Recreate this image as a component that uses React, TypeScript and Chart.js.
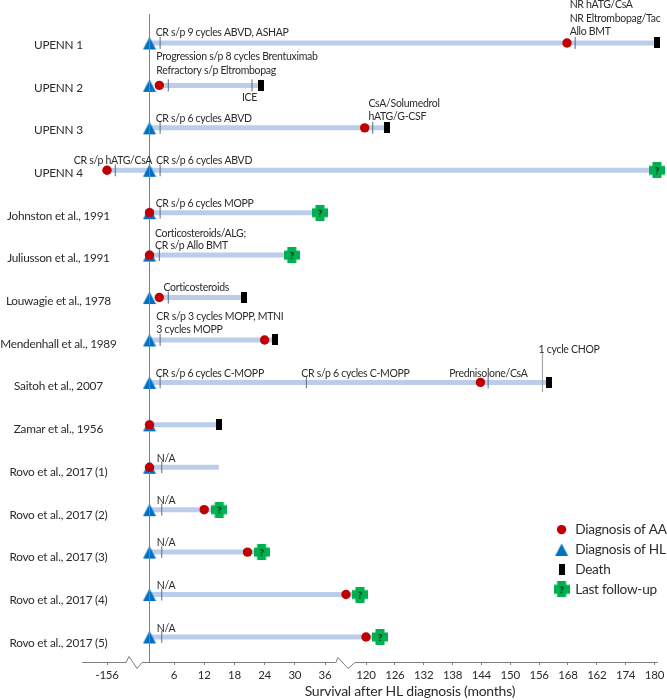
import React, { useEffect, useRef } from "react";
import { Chart, registerables, LinearScale } from "chart.js";

const FONT = "Lato";
const INK = "#2b2b2b";
const AXIS = "#7f7f7f";

const studies = ["UPENN 1","UPENN 2","UPENN 3","UPENN 4","Johnston et al., 1991","Juliusson et al., 1991","Louwagie et al., 1978","Mendenhall et al., 1989","Saitoh et al., 2007","Zamar et al., 1956","Rovo et al., 2017 (1)","Rovo et al., 2017 (2)","Rovo et al., 2017 (3)","Rovo et al., 2017 (4)","Rovo et al., 2017 (5)"];
const barStart = [0, 2.4, 0, -156, 0, 0, 2.4, 0, 0, 0, 0, 0, 0, 0, 0];
const barEnd = [180.5, 23.3, 124.3, 180.5, 35, 29.4, 19.9, 26, 158, 14.9, 14.9, 15, 23.4, 107.7, 122.9];
const aaMonths = [161.8, 2.4, 117.3, -156, 0, 0, 2.4, 24, 143.8, 0, 0, 12, 20.6, 79, 120];
const hlMonths = [0, 0, 0, 0, 0, 0, 0, 0, 0, 0, 0, 0, 0, 0, 0];
const deathRows = [0, 1, 2, 6, 7, 8, 9];
const deathMonths = [180.5, 23.3, 124.3, 19.9, 26, 158, 14.9];
const followRows = [3, 4, 5, 11, 12, 13, 14];
const followMonths = [180.5, 35, 29.4, 15, 23.4, 107.7, 122.9];
const tickRows = [0,0,1,1,2,2,3,3,4,5,6,7,8,8,8,10,11,12,13,14];
const tickMonths = [2.6,163.5,4.6,21.5,2.6,121.4,-125.5,2.6,2.6,2.4,4.6,2.6,2.6,32.3,145.4,3,3,3,3,3];

const axisMonths = [-156, 6, 12, 18, 24, 30, 36, 120, 126, 132, 138, 144, 150, 156, 162, 168, 174, 180];
const axisLabels = ["-156", "6", "12", "18", "24", "30", "36", "120", "126", "132", "138", "144", "150", "156", "168", "162", "174", "180"];
const knotMonths = [-156, 0, 6, 36, 120, 180];
const knotOffsets = [25, 67.5, 92, 243, 284, 572.5];

const noteTexts = ["CR s/p 9 cycles ABVD, ASHAP","Progression s/p 8 cycles Brentuximab","Refractory s/p Eltrombopag","ICE","CR s/p 6 cycles ABVD","CR s/p hATG/CsA","CR s/p 6 cycles ABVD","CR s/p 6 cycles MOPP","Corticosteroids/ALG;","CR s/p Allo BMT","Corticosteroids","CR s/p 3 cycles MOPP, MTNI","3 cycles MOPP","CR s/p 6 cycles C-MOPP","CR s/p 6 cycles C-MOPP","Prednisolone/CsA","1 cycle CHOP","N/A","N/A","N/A","N/A","N/A","CsA/Solumedrol","hATG/G-CSF","NR hATG/CsA","NR Eltrombopag/Tac","Allo BMT"];
const noteMonths = [1.5,1.67,1.67,19.5,1.5,-278,1.6,1.5,1.35,1.35,3.4,1.67,1.67,1.5,31.3,137.3,155.9,1.8,1.8,1.8,1.8,1.8,120.5,120.5,162.35,162.35,162.35];
const noteRows = [-0.236,0.33,0.653,1.289,1.791,2.764,2.764,3.794,4.502,4.784,5.767,6.45,6.764,7.785,7.785,7.785,7.219,9.804,10.78,11.784,12.79,13.794,1.421,1.737,-0.896,-0.582,-0.276];

const legendNames = ["Diagnosis of AA", "Diagnosis of HL", "Death", "Last follow-up"];

class BrokenAxis extends LinearScale {
  static id = "brokenAxis";
  getPixelForValue(v: number) {
    let i = 0;
    while (i < knotMonths.length - 2 && v > knotMonths[i + 1]) i++;
    const t = (v - knotMonths[i]) / (knotMonths[i + 1] - knotMonths[i]);
    return this.left + knotOffsets[i] + t * (knotOffsets[i + 1] - knotOffsets[i]);
  }
  drawTitle() {
    const ctx = this.ctx;
    ctx.save();
    ctx.translate(40, 0);
    super.drawTitle();
    ctx.restore();
  }
}
class NamesAxis extends LinearScale {
  static id = "namesAxis";
  _computeLabelArea() {
    return undefined;
  }
}
Chart.register(...registerables, BrokenAxis, NamesAxis);

function triangleMark() {
  const c = document.createElement("canvas");
  c.width = 14; c.height = 15;
  const g = c.getContext("2d")!;
  g.fillStyle = "#0070c0";
  g.beginPath(); g.moveTo(7, 1.5); g.lineTo(13.5, 14); g.lineTo(0.5, 14); g.closePath(); g.fill();
  return c;
}
function deathMark() {
  const c = document.createElement("canvas");
  c.width = 6; c.height = 11;
  const g = c.getContext("2d")!;
  g.fillStyle = "#000"; g.fillRect(0, 0, 6, 11);
  return c;
}
function followMark() {
  const c = document.createElement("canvas");
  c.width = 16; c.height = 16;
  const g = c.getContext("2d")!;
  g.fillStyle = "#00b050";
  g.fillRect(3.5, 0, 9, 16); g.fillRect(0, 3.5, 16, 9);
  g.fillStyle = "#1a1a1a"; g.font = `bold 10px ${FONT}`; g.textAlign = "center"; g.textBaseline = "middle";
  g.fillText("?", 8, 8.5);
  return c;
}

const notesPlugin = {
  id: "notes",
  afterDatasetsDraw(chart: any) {
    const { ctx, scales: { x, y } } = chart;
    ctx.save();
    ctx.font = `10.5px ${FONT}`;
    ctx.letterSpacing = "-0.3px";
    ctx.fillStyle = INK;
    ctx.textAlign = "left";
    ctx.textBaseline = "middle";
    noteTexts.forEach((t, i) => ctx.fillText(t, x.getPixelForValue(noteMonths[i]), y.getPixelForValue(noteRows[i])));
    ctx.restore();
  },
};

const axisLinePlugin = {
  id: "axisLine",
  afterDatasetsDraw(chart: any) {
    const { ctx, chartArea: { left, right, bottom } } = chart;
    const path = [[left, 0], [left + 44, 0], [left + 47, -6], [left + 55, 6], [left + 60, 0], [left + 254, 0], [left + 256, -5], [left + 266, 6], [left + 273, 0], [right, 0]];
    ctx.save();
    ctx.strokeStyle = AXIS;
    ctx.lineWidth = 1;
    ctx.beginPath();
    path.forEach(([a, b], i) => (i ? ctx.lineTo(a, bottom + b + 0.5) : ctx.moveTo(a, bottom + b + 0.5)));
    ctx.stroke();
    ctx.restore();
  },
};

const legendPlacer = {
  id: "legendPlacer",
  afterLayout(chart: any) {
    const l = chart.legend;
    l.left = 548.5; l.right = 670; l.top = 516.5; l.bottom = 612;
  },
};

const tighten = {
  id: "tighten",
  beforeUpdate(chart: any) { chart.ctx.letterSpacing = "-0.25px"; },
  beforeDraw(chart: any) { chart.ctx.letterSpacing = "-0.25px"; },
};

export default function App() {
  const ref = useRef<HTMLCanvasElement>(null);
  useEffect(() => {
    const base = { showLine: false, clip: false as const, xAxisID: "x", yAxisID: "y" };
    const datasets: any[] = [
      { ...base, type: "scatter", label: legendNames[0], order: 10, pointStyle: "circle", pointRadius: 4.7, pointBackgroundColor: "#c00000", pointBorderWidth: 0, backgroundColor: "#c00000", borderWidth: 0,
        data: aaMonths.map((m, i) => ({ x: m, y: i })) },
      { ...base, type: "scatter", label: legendNames[1], order: 40, pointStyle: triangleMark(), pointRadius: 7,
        data: hlMonths.map((m, i) => ({ x: m, y: i })) },
      { ...base, type: "scatter", label: legendNames[2], order: 20, pointStyle: deathMark(), pointRadius: 6,
        data: deathMonths.map((m, i) => ({ x: m, y: deathRows[i] })) },
      { ...base, type: "scatter", label: legendNames[3], order: 20, pointStyle: followMark(), pointRadius: 8,
        data: followMonths.map((m, i) => ({ x: m, y: followRows[i] })) },
      { ...base, type: "scatter", label: "treatment", order: 25, pointStyle: "line", rotation: 90, pointRadius: 6, pointBorderWidth: 1, pointBorderColor: "#5b6b85",
        data: tickMonths.map((m, i) => ({ x: m, y: tickRows[i] })) },
      { ...base, type: "line", label: "origin", order: 30, showLine: true, pointRadius: 0, borderColor: AXIS, borderWidth: 1,
        data: [{ x: 0, y: -0.683 }, { x: 0, y: 14.59 }] },
      { ...base, type: "line", label: "chop", order: 30, showLine: true, pointRadius: 0, borderColor: "#a6a6a6", borderWidth: 1.2,
        data: [{ x: 156.7, y: 7.306 }, { x: 156.7, y: 8.225 }] },
      ...studies.map((s, i) => ({ ...base, type: "line", label: "bar " + s, order: 50, showLine: true, pointRadius: 0, borderColor: "#bccdec", borderWidth: 5, borderCapStyle: "butt",
        data: [{ x: barStart[i], y: i }, { x: barEnd[i], y: i }] })),
    ];
    const chart = new Chart(ref.current!, {
      type: "scatter",
      data: { datasets },
      plugins: [tighten, notesPlugin, axisLinePlugin, legendPlacer],
      options: {
        responsive: false,
        animation: false,
        events: [],
        layout: { padding: { top: 14, right: 7, left: 0, bottom: 0 } },
        plugins: {
          tooltip: { enabled: false },
          title: { display: false },
          legend: {
            display: true,
            position: "chartArea",
            align: "start",
            labels: {
              usePointStyle: true,
              boxWidth: 14,
              boxHeight: 6.6,
              padding: 6.3,
              color: INK,
              font: { family: FONT, size: 13.6 },
              filter: (item: any) => legendNames.includes(item.text),
              sort: (a: any, b: any) => legendNames.indexOf(a.text) - legendNames.indexOf(b.text),
            },
          },
        },
        scales: {
          x: {
            type: "brokenAxis",
            position: "bottom",
            min: -251,
            max: 181.1,
            afterFit: (s: any) => { s.height = 38; },
            afterBuildTicks: (s: any) => { s.ticks = axisMonths.map((value) => ({ value })); },
            border: { display: false },
            grid: { drawOnChartArea: false, drawTicks: true, tickLength: 3, color: AXIS },
            ticks: {
              autoSkip: false, maxRotation: 0, minRotation: 0, padding: 3, color: INK,
              font: { family: FONT, size: 11.5 },
              callback: (_v: any, i: number) => axisLabels[i],
            },
            title: { display: true, text: "Survival after HL diagnosis (months)", color: INK, font: { family: FONT, size: 14 }, padding: { top: 1, bottom: 0 } },
          },
          y: { type: "linear", display: false, reverse: true, min: -0.683, max: 14.59 },
          names: {
            type: "namesAxis",
            position: "left",
            reverse: true,
            min: -0.726,
            max: 14.446,
            afterFit: (s: any) => { s.width = 82; },
            afterBuildTicks: (s: any) => { s.ticks = studies.map((_n, i) => ({ value: i })); },
            border: { display: false },
            grid: { display: false, drawTicks: false },
            ticks: {
              autoSkip: false, crossAlign: "center", padding: -34.5, color: INK,
              font: { family: FONT, size: 11.8 },
              callback: (_v: any, i: number) => studies[i],
            },
          },
        },
      },
    } as any);
    return () => chart.destroy();
  }, []);
  return (
    <div style={{ position: "absolute", left: 0, top: 0, width: 667, height: 700, background: "#fff" }}>
      <canvas ref={ref} width={667} height={700} style={{ display: "block" }} />
    </div>
  );
}
